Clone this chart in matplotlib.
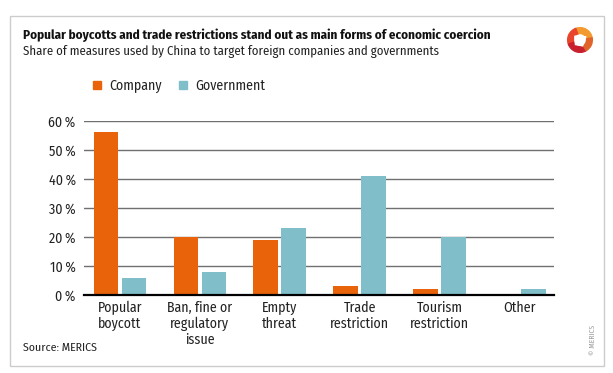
import matplotlib
matplotlib.use("Agg")
import matplotlib.pyplot as plt
from matplotlib.patches import Rectangle, Wedge, Polygon
from matplotlib.lines import Line2D
import numpy as np

categories = ["Popular\nboycott", "Ban, fine or\nregulatory\nissue", "Empty\nthreat",
              "Trade\nrestriction", "Tourism\nrestriction", "Other"]
company = [56, 20, 19, 3, 2, 0]
government = [6, 8, 23, 41, 20, 2]
y_ticks = [0, 10, 20, 30, 40, 50, 60]

orange = "#E8630A"
teal = "#80BFCA"
text_col = "#222222"

plt.rcParams['font.family'] = ['Fira Sans Condensed', 'Roboto Condensed', 'Roboto', 'DejaVu Sans']

fig = plt.figure(figsize=(6.13, 3.73), dpi=100)
W, H = 613, 373

# frame around the graphic
fig.patches.append(Rectangle((10 / W, 1 - 366 / H), 594 / W, 350 / H,
                             transform=fig.transFigure, fill=False,
                             edgecolor="#cccccc", linewidth=1))

ax = fig.add_axes([84 / W, 1 - 295 / H, 470 / W, 174.3 / H])
x = np.arange(len(categories))
bw = 0.31
ax.bar(x - 0.175, company, bw, color=orange, zorder=3)
ax.bar(x + 0.175, government, bw, color=teal, zorder=3)

ax.set_xlim(-0.45, 5.43)
ax.set_ylim(0, 60)
ax.set_yticks(y_ticks)
ax.set_yticklabels([f"{t}\u2009%" for t in y_ticks], color=text_col, fontsize=10)
ax.set_xticks(x)
ax.set_xticklabels(categories, color=text_col, fontsize=10, linespacing=1.15)
ax.tick_params(axis="x", length=0, pad=4)
ax.tick_params(axis="y", length=0, pad=6)
ax.yaxis.grid(True, color="#707070", linewidth=1, zorder=0)
for s in ["top", "right", "left"]:
    ax.spines[s].set_visible(False)
ax.spines["bottom"].set_color("black")
ax.spines["bottom"].set_linewidth(1.6)
ax.spines["bottom"].set_zorder(4)

handles = [Line2D([], [], marker="s", linestyle="none", markersize=6, color=orange),
           Line2D([], [], marker="s", linestyle="none", markersize=6, color=teal)]
leg = fig.legend(handles, ["Company", "Government"], loc="center left",
                 bbox_to_anchor=(91 / W, 1 - 86 / H), ncol=2, frameon=False,
                 fontsize=10, handlelength=0.8, handletextpad=0.5, columnspacing=1.15,
                 borderaxespad=0, borderpad=0)
for t in leg.get_texts():
    t.set_color(text_col)

fig.text(23 / W, 1 - 35 / H,
         "Popular boycotts and trade restrictions stand out as main forms of economic coercion",
         fontsize=9.4, fontweight="bold", color="#111111", va="center")
fig.text(23 / W, 1 - 52 / H,
         "Share of measures used by China to target foreign companies and governments",
         fontsize=9.2, color=text_col, va="center")
fig.text(23 / W, 1 - 348 / H, "Source: MERICS", fontsize=8.5, color=text_col, va="center")
fig.text(593 / W, 1 - 340 / H, "\u00a9 MERICS", fontsize=5.5, color="#999999",
         rotation=90, ha="center", va="center")

# logo
lax = fig.add_axes([566 / W, 1 - 53 / H, 28 / W, 26 / H])
lax.set_xlim(-1, 1)
lax.set_ylim(-1, 1)
lax.set_aspect("equal")
lax.axis("off")
lax.add_patch(Wedge((0, 0), 0.95, 10, 110, width=0.45, color="#F29A2E"))
lax.add_patch(Wedge((0, 0), 0.95, 110, 200, width=0.45, color="#E8452C"))
lax.add_patch(Wedge((0, 0), 0.95, 200, 300, width=0.45, color="#C8202F"))
lax.add_patch(Wedge((0, 0), 0.95, 300, 370, width=0.45, color="#E0632A"))
lax.add_patch(Polygon([[-0.4, 0.3], [0.45, 0.25], [0.2, -0.45], [-0.35, -0.35]],
                      closed=True, color="white"))

fig.savefig("out.png", dpi=100)
